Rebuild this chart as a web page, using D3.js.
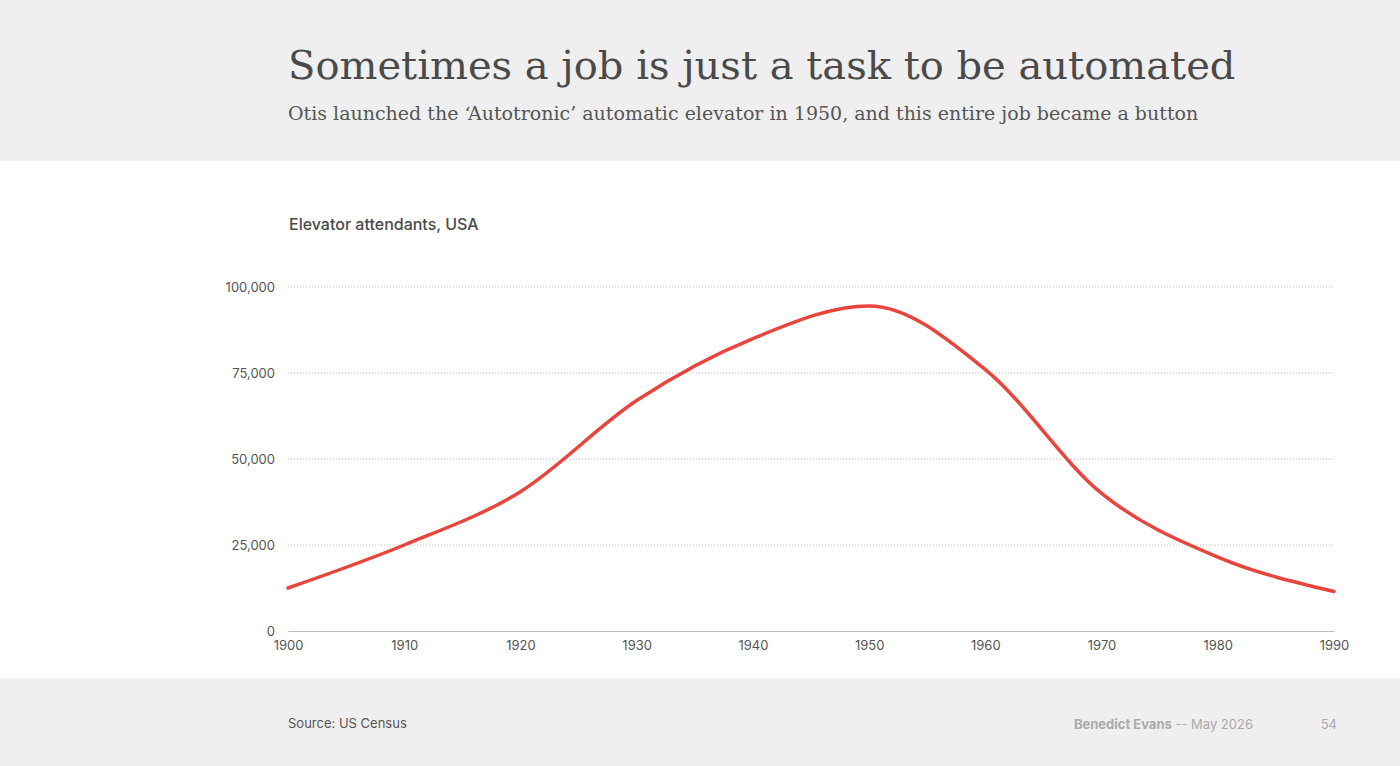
<!DOCTYPE html>
<html>
<head>
<meta charset="utf-8">
<script src="https://cdn.jsdelivr.net/npm/d3@7"></script>
<style>
  body { margin: 0; background: #fff; }
  svg { display: block; }
</style>
</head>
<body>
<div id="chart"></div>
<script>
var W = 1400, H = 766;

var years = [1900, 1910, 1920, 1930, 1940, 1950, 1960, 1970, 1980, 1990];
var attendants = [12500, 25000, 40500, 67000, 85000, 94500, 76000, 40000, 21500, 11500];
var yTicks = [0, 25000, 50000, 75000, 100000];

var svg = d3.select('#chart').append('svg')
  .attr('width', W)
  .attr('height', H);

// header and footer bands
svg.append('rect').attr('width', W).attr('height', 161).attr('fill', '#efefef');
svg.append('rect').attr('y', 678).attr('width', W).attr('height', H - 678).attr('fill', '#efefef');

svg.append('text')
  .attr('x', 288).attr('y', 79)
  .attr('font-family', 'DejaVu Serif, serif')
  .attr('font-size', 40)
  .attr('fill', '#4a4a4a')
  .text('Sometimes a job is just a task to be automated');

svg.append('text')
  .attr('x', 288).attr('y', 120)
  .attr('font-family', 'DejaVu Serif, serif')
  .attr('font-size', 19)
  .attr('fill', '#555')
  .text('Otis launched the \u2018Autotronic\u2019 automatic elevator in 1950, and this entire job became a button');

svg.append('text')
  .attr('x', 289).attr('y', 230)
  .attr('font-family', 'Inter, sans-serif')
  .attr('font-size', 16)
  .attr('font-weight', 500)
  .attr('fill', '#4a4a4a')
  .text('Elevator attendants, USA');

var x = d3.scaleLinear().domain([1900, 1990]).range([288, 1334]);
var y = d3.scaleLinear().domain([0, 100000]).range([631, 287]);

// gridlines
svg.selectAll('line.grid')
  .data(yTicks.slice(1))
  .enter()
  .append('line')
  .attr('class', 'grid')
  .attr('x1', 288).attr('x2', 1334)
  .attr('y1', function (d) { return y(d); })
  .attr('y2', function (d) { return y(d); })
  .attr('stroke', '#bbb')
  .attr('stroke-dasharray', '1,2');

var yAxis = svg.append('g')
  .attr('transform', 'translate(288,0)')
  .call(d3.axisLeft(y).tickValues(yTicks).tickFormat(d3.format(',')).tickSize(0).tickPadding(13));
yAxis.select('.domain').remove();

var xAxis = svg.append('g')
  .attr('transform', 'translate(0,631)')
  .call(d3.axisBottom(x).tickValues(years).tickFormat(d3.format('d')).tickSize(0).tickPadding(10));
xAxis.select('.domain').attr('stroke', '#bbb');

svg.selectAll('.tick text')
  .attr('font-family', 'Inter, sans-serif')
  .attr('font-size', 13)
  .attr('fill', '#555');

var line = d3.line()
  .x(function (d, i) { return x(years[i]); })
  .y(function (d) { return y(d); })
  .curve(d3.curveMonotoneX);

svg.append('path')
  .datum(attendants)
  .attr('d', line)
  .attr('fill', 'none')
  .attr('stroke', '#e8453c')
  .attr('stroke-width', 3.5)
  .attr('stroke-linecap', 'round');

// footer
svg.append('text')
  .attr('x', 288).attr('y', 728)
  .attr('font-family', 'Inter, sans-serif')
  .attr('font-size', 13)
  .attr('fill', '#555')
  .text('Source: US Census');

var foot = svg.append('text')
  .attr('x', 1253).attr('y', 729)
  .attr('text-anchor', 'end')
  .attr('font-family', 'Inter, sans-serif')
  .attr('font-size', 13)
  .attr('fill', '#aaa');
foot.append('tspan').attr('font-weight', 700).text('Benedict Evans');
foot.append('tspan').text('  --  May 2026');

svg.append('text')
  .attr('x', 1337).attr('y', 729)
  .attr('text-anchor', 'end')
  .attr('font-family', 'Inter, sans-serif')
  .attr('font-size', 13)
  .attr('fill', '#aaa')
  .text('54');
</script>
</body>
</html>
